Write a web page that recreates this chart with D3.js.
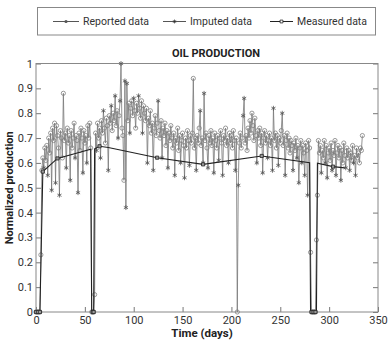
<!DOCTYPE html>
<html>
<head>
<meta charset="utf-8">
<script src="https://cdn.jsdelivr.net/npm/d3@7"></script>
<style>
  body { margin: 0; background: #fff; }
  text { font-family: Roboto, "Noto Sans", sans-serif; }
</style>
</head>
<body>
<svg id="chart" width="389" height="341"></svg>
<script>
// daily normalized production, day 0..334
const dailyValues = [
  0, 0, 0, 0, 0, 0.23, 0.57, 0.62, 0.58, 0.66,
  0.61, 0.67, 0.55, 0.70, 0.64, 0.72, 0.49, 0.74, 0.69, 0.76,
  0.52, 0.75, 0.71, 0.66, 0.47, 0.73, 0.70, 0.62, 0.88, 0.69,
  0.72, 0.58, 0.74, 0.68, 0.71, 0.53, 0.73, 0.66, 0.70, 0.76,
  0.62, 0.71, 0.69, 0.48, 0.72, 0.65, 0.74, 0.70, 0.56, 0.73,
  0.68, 0.71, 0.60, 0.75, 0.70, 0.76, 0.66, 0, 0, 0,
  0.07, 0.72, 0.65, 0.76, 0.70, 0.74, 0.62, 0.77, 0.72, 0.81,
  0.74, 0.68, 0.78, 0.75, 0.57, 0.79, 0.76, 0.83, 0.73, 0.80,
  0.77, 0.87, 0.75, 0.81, 0.70, 0.79, 0.85, 1.00, 0.74, 0.71,
  0.53, 0.93, 0.42, 0.92, 0.77, 0.84, 0.72, 0.82, 0.85, 0.79,
  0.86, 0.81, 0.74, 0.84, 0.80, 0.87, 0.82, 0.78, 0.85, 0.72,
  0.83, 0.80, 0.77, 0.82, 0.60, 0.78, 0.75, 0.81, 0.72, 0.76,
  0.57, 0.74, 0.79, 0.71, 0.76, 0.85, 0.73, 0.70, 0.77, 0.62,
  0.74, 0.71, 0.76, 0.67, 0.73, 0.58, 0.72, 0.69, 0.75, 0.70,
  0.66, 0.72, 0.55, 0.70, 0.68, 0.74, 0.65, 0.71, 0.60, 0.69,
  0.72, 0.67, 0.54, 0.70, 0.66, 0.73, 0.69, 0.59, 0.71, 0.68,
  0.72, 0.94, 0.66, 0.70, 0.57, 0.71, 0.68, 0.74, 0.81, 0.67,
  0.70, 0.60, 0.88, 0.69, 0.72, 0.66, 0.58, 0.71, 0.68, 0.73,
  0.67, 0.70, 0.56, 0.72, 0.69, 0.66, 0.71, 0.61, 0.70, 0.73,
  0.68, 0.55, 0.71, 0.69, 0.74, 0.67, 0.70, 0.60, 0.72, 0.68,
  0.71, 0.66, 0.73, 0.69, 0.57, 0.70, 0, 0.51, 0.68, 0.72,
  0.66, 0.70, 0.79, 0.86, 0.68, 0.71, 0.65, 0.74, 0.70, 0.77,
  0.72, 0.80, 0.75, 0.69, 0.78, 0.71, 0.60, 0.73, 0.70, 0.74,
  0.67, 0.72, 0.56, 0.70, 0.73, 0.68, 0.71, 0.62, 0.69, 0.72,
  0.67, 0.70, 0.57, 0.82, 0.69, 0.72, 0.66, 0.71, 0.59, 0.70,
  0.68, 0.73, 0.80, 0.67, 0.71, 0.55, 0.69, 0.72, 0.66, 0.70,
  0.64, 0.69, 0.67, 0.57, 0.68, 0.65, 0.70, 0.62, 0.67, 0.52,
  0.66, 0.69, 0.60, 0.67, 0.64, 0.55, 0.68, 0.65, 0.47, 0.69,
  0.66, 0.24, 0, 0, 0, 0, 0, 0.29, 0.47, 0.69,
  0.64, 0.67, 0.56, 0.65, 0.62, 0.69, 0.60, 0.67, 0.54, 0.64,
  0.66, 0.61, 0.68, 0.57, 0.65, 0.63, 0.69, 0.55, 0.64, 0.67,
  0.62, 0.66, 0.53, 0.65, 0.60, 0.68, 0.63, 0.58, 0.66, 0.62,
  0.65, 0.57, 0.64, 0.61, 0.67, 0.60, 0.63, 0.55, 0.66, 0.62,
  0.64, 0.60, 0.66, 0.65, 0.71
];

// days whose value was imputed (star markers); the rest are reported
const imputedDays = [
  8, 12, 16, 20, 24, 31, 35, 40, 43, 48, 52, 62, 66, 69, 74, 77, 81, 84, 86, 87,
  91, 92, 93, 96, 100, 105, 109, 114, 120, 125, 129, 135, 142, 148, 152, 157,
  164, 168, 171, 172, 176, 182, 187, 191, 197, 204, 207, 212, 213, 226, 232,
  237, 242, 243, 248, 252, 255, 263, 267, 269, 272, 275, 278, 292, 296, 298,
  303, 307, 312, 317, 321, 325, 327
];

// measured (well test) data
const measuredDays   = [0, 1, 2, 3, 4, 7, 22, 56, 57, 58, 59, 60, 65, 74, 124, 171, 231, 280, 281, 282, 283, 284, 285, 286, 287, 288, 304, 316];
const measuredValues = [0, 0, 0, 0, 0, 0.565, 0.618, 0.655, 0, 0, 0, 0.657, 0.667, 0.662, 0.621, 0.594, 0.628, 0.601, 0, 0, 0, 0, 0, 0, 0, 0.599, 0.585, 0.58];
// days where a square marker is visible on the measured line
const measuredMarkerDays = [0, 2, 4, 7, 22, 58, 59, 65, 124, 171, 231, 282, 284, 286, 304];

const xTicks = [0, 50, 100, 150, 200, 250, 300, 350];
const yTicks = [0, 0.1, 0.2, 0.3, 0.4, 0.5, 0.6, 0.7, 0.8, 0.9, 1];
const legendLabels = ["Reported data", "Imputed data", "Measured data"];

const svg = d3.select("#chart");
const plotLeft = 36, plotRight = 378, plotTop = 63.5, plotBottom = 312;

const x = d3.scaleLinear().domain([0, 350]).range([plotLeft, plotRight]);
const y = d3.scaleLinear().domain([0, 1]).range([plotBottom, plotTop]);

const daily = dailyValues.map((v, i) => ({ day: i, value: v, imputed: imputedDays.includes(i) }));
const measured = measuredDays.map((d, i) => ({ day: d, value: measuredValues[i] }));

// axes (ticks point inward)
const yAxis = svg.append("g")
    .attr("transform", `translate(${plotLeft},0)`)
    .call(d3.axisLeft(y).tickValues(yTicks).tickSizeInner(-5).tickSizeOuter(0).tickPadding(3).tickFormat(d3.format("")));
const yAxisR = svg.append("g")
    .attr("transform", `translate(${plotRight},0)`)
    .call(d3.axisRight(y).tickValues(yTicks).tickSizeInner(-5).tickSizeOuter(0).tickFormat(""));
const xAxis = svg.append("g")
    .attr("transform", `translate(0,${plotBottom})`)
    .call(d3.axisBottom(x).tickValues(xTicks).tickSizeInner(-5).tickSizeOuter(0).tickPadding(4));

[yAxis, yAxisR, xAxis].forEach(g => {
    g.select(".domain").remove();
    g.selectAll(".tick line").attr("stroke", "#777");
    g.selectAll("text").attr("fill", "#333").style("font-size", "11px");
});

svg.append("rect")
    .attr("x", plotLeft).attr("y", plotTop)
    .attr("width", plotRight - plotLeft).attr("height", plotBottom - plotTop)
    .attr("fill", "none").attr("stroke", "#888");

// daily trace
svg.append("path")
    .datum(daily)
    .attr("fill", "none")
    .attr("stroke", "#777")
    .attr("stroke-width", 0.8)
    .attr("d", d3.line().x(d => x(d.day)).y(d => y(d.value)));

svg.append("g").selectAll("circle")
    .data(daily.filter(d => !d.imputed))
    .enter().append("circle")
    .attr("cx", d => x(d.day))
    .attr("cy", d => y(d.value))
    .attr("r", 2.1)
    .attr("fill", "none")
    .attr("stroke", "#808080")
    .attr("stroke-width", 0.8);

const star = d3.symbol(d3.symbolAsterisk, 16);
svg.append("g").selectAll("path")
    .data(daily.filter(d => d.imputed))
    .enter().append("path")
    .attr("transform", d => `translate(${x(d.day)},${y(d.value)})`)
    .attr("d", star)
    .attr("fill", "none")
    .attr("stroke", "#555")
    .attr("stroke-width", 0.8);

// measured
svg.append("path")
    .datum(measured)
    .attr("fill", "none")
    .attr("stroke", "#222")
    .attr("stroke-width", 1.1)
    .attr("d", d3.line().x(d => x(d.day)).y(d => y(d.value)));

const square = d3.symbol(d3.symbolSquare, 10);
svg.append("g").selectAll("path")
    .data(measured.filter(d => measuredMarkerDays.includes(d.day)))
    .enter().append("path")
    .attr("transform", d => `translate(${x(d.day)},${y(d.value)})`)
    .attr("d", square)
    .attr("fill", "#999")
    .attr("stroke", "#222")
    .attr("stroke-width", 0.8);

// title and labels
svg.append("text")
    .attr("x", 216).attr("y", 57)
    .attr("text-anchor", "middle")
    .style("font-size", "11px").style("font-weight", "bold")
    .attr("fill", "#222")
    .text("OIL PRODUCTION");

svg.append("text")
    .attr("x", 202).attr("y", 337)
    .attr("text-anchor", "middle")
    .style("font-size", "11.5px").style("font-weight", "bold")
    .attr("fill", "#222")
    .text("Time (days)");

svg.append("text")
    .attr("transform", `translate(13,${(plotTop + plotBottom) / 2}) rotate(-90)`)
    .attr("text-anchor", "middle")
    .style("font-size", "11px").style("font-weight", "bold")
    .attr("fill", "#222")
    .text("Normalized production");

// legend
const legend = svg.append("g");
legend.append("rect")
    .attr("x", 37.5).attr("y", 7.5).attr("width", 338).attr("height", 27.5)
    .attr("fill", "#fff").attr("stroke", "#888");

const legendX = [53, 163, 270];
const legendLen = [26, 23, 23];
legendLabels.forEach((label, i) => {
    const g = legend.append("g").attr("transform", `translate(${legendX[i]},21.5)`);
    g.append("line").attr("x1", 0).attr("x2", legendLen[i])
        .attr("stroke", i === 2 ? "#222" : "#555").attr("stroke-width", 1);
    const mx = legendLen[i] / 2;
    if (i === 0) {
        g.append("circle").attr("cx", mx).attr("r", 1.6).attr("fill", "#555");
    } else if (i === 1) {
        g.append("path").attr("transform", `translate(${mx},0)`).attr("d", d3.symbol(d3.symbolAsterisk, 10))
            .attr("stroke", "#333").attr("stroke-width", 0.8);
    } else {
        g.append("path").attr("transform", `translate(${mx},0)`).attr("d", d3.symbol(d3.symbolSquare, 8))
            .attr("fill", "#fff").attr("stroke", "#222").attr("stroke-width", 0.8);
    }
    g.append("text").attr("x", legendLen[i] + 4).attr("y", 3.5)
        .style("font-size", "10.5px").attr("fill", "#333")
        .text(label);
});
</script>
</body>
</html>
